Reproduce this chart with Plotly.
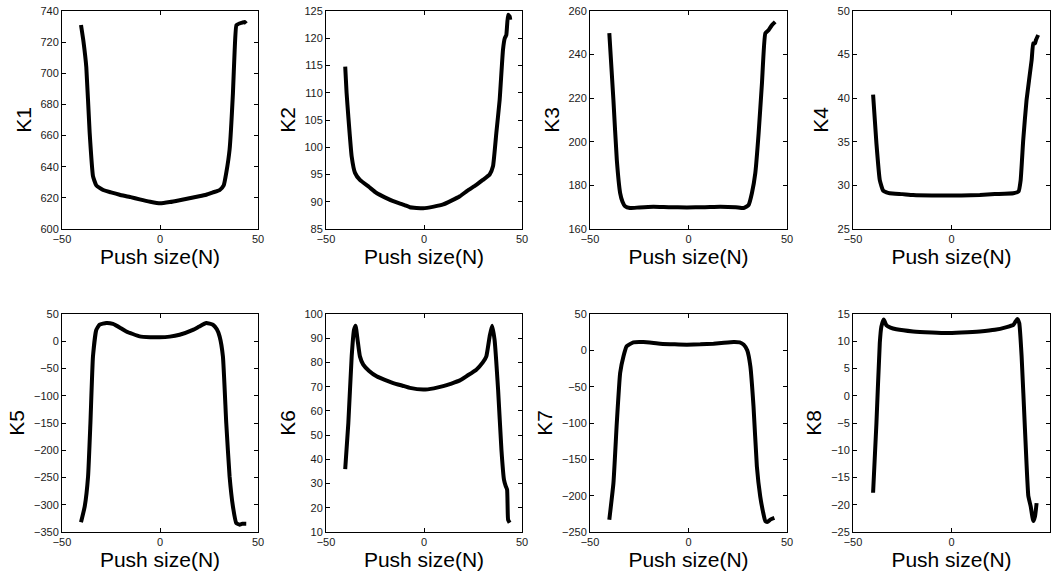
import plotly.graph_objects as go

# ---------------- data ----------------
k1_x = [-40.3, -39, -37.6, -35.9, -34.2, -32.5, -29, -25, -20.6, -15, -10.4, -5, 0, 5, 10, 15, 20, 23.6, 27, 30.4, 32.5, 33.8, 35.5, 37.2, 38.1, 39, 40.6, 42, 43.2, 44]
k1_y = [731, 720, 704, 662, 634, 628, 625, 623.5, 622, 620.5, 619, 617.5, 616.5, 617.3, 618.5, 619.8, 621, 622, 623.5, 625, 628, 636, 651, 687, 715, 731, 732, 732.5, 733, 732]

k2_x = [-40.2, -39.5, -38.6, -36.9, -35.2, -32.7, -28, -24.2, -20, -15.7, -10, -7.2, -0.4, 5, 9.8, 14, 18.3, 22, 26.7, 30, 33.5, 35.2, 36.9, 38.6, 40.3, 41.2, 42, 42.9, 43.7, 44]
k2_y = [114.8, 110, 105.6, 98.3, 95.3, 94, 92.7, 91.6, 90.8, 90.1, 89.4, 89, 88.8, 89.1, 89.5, 90.2, 91, 92, 93.1, 94, 95, 96.5, 102.6, 108.7, 117.9, 120, 120.6, 124.3, 124, 123.4]

k3_x = [-40.2, -38.1, -36.4, -34.7, -33.5, -32.2, -29.7, -25, -17.8, -10, -0.8, 8, 16.1, 24, 28, 30.5, 32.2, 33.9, 35.6, 37.3, 39, 40.7, 42.4, 44]
k3_y = [249.8, 219, 191.8, 176.5, 172.5, 170.4, 169.6, 169.9, 170.2, 170.0, 169.9, 170.0, 170.2, 170.0, 169.6, 171, 176.5, 185.6, 204, 227, 249.8, 251.3, 253.6, 255]

k4_x = [-39.8, -38.1, -36.4, -34.7, -33, -31.4, -25, -19.5, -10, -2.5, 5, 14.4, 22, 31.4, 34, 35.1, 36.4, 38.1, 40.7, 41.5, 42.4, 42.9, 44]
k4_y = [40.4, 34.8, 30.6, 29.4, 29.2, 29.1, 29.0, 28.9, 28.85, 28.85, 28.85, 28.9, 29.0, 29.1, 29.3, 30.6, 35.2, 39.8, 44.4, 46.3, 46.3, 46.7, 47.25]

k5_x = [-40.3, -38.4, -36.7, -35.5, -34.2, -32.5, -30.8, -27.4, -24, -20, -17.2, -10.4, -5, -0.2, 5, 10, 16.8, 20, 23.6, 27, 29, 30.4, 32.1, 33.8, 35.5, 37.2, 38.9, 40.6, 42, 44]
k5_y = [-332, -303, -248, -150, -28, 21, 30.4, 33.5, 31.7, 24, 18, 9, 7.5, 7.2, 8.5, 12, 21, 27, 33.5, 30.4, 22, 9, -28, -150, -248, -303, -333.5, -336.5, -335, -335]

k6_x = [-40.2, -38.6, -36.9, -35.7, -34.9, -33.9, -32.7, -31, -28, -24.2, -20, -15.7, -10, -7.2, -0.4, 5, 9.8, 14, 18.3, 22, 26.7, 30, 31.8, 33.5, 34.7, 36, 37.8, 39.5, 40.8, 41.7, 42.4, 42.9, 43.7]
k6_y = [36, 55, 82.5, 93.5, 95.2, 89.4, 82.5, 79.1, 76.5, 74.3, 72.8, 71.5, 70.2, 69.5, 68.8, 69.3, 70.2, 71.3, 72.6, 74.5, 77, 80, 82.5, 90.8, 95.2, 89.4, 68.8, 44, 31.6, 28.9, 27.5, 15.1, 13.8]

k7_x = [-40.2, -38.1, -36.4, -34.7, -33, -31.4, -28, -22.9, -14.4, -7, -0.8, 6, 12.7, 18, 22.9, 26, 28, 29.8, 31.4, 33, 34.7, 36.4, 37.8, 39, 40.2, 41.5, 43.6]
k7_y = [-233, -182.6, -100, -31.2, -8.3, 5.5, 11, 11.5, 9.2, 8.2, 7.8, 8.2, 9.2, 10.5, 11.5, 11, 7.8, 0, -22, -77, -159.6, -201, -222, -235, -236, -233, -230.7]

k8_x = [-39.8, -38.1, -36.4, -35.6, -34.4, -33, -31, -28, -19.5, -10, -2.5, 5, 14.4, 22, 28, 31.4, 33.4, 34.4, 35.6, 37.3, 39, 40.2, 41.5, 42.4, 43.2]
k8_y = [-17.8, -5, 9.7, 12.7, 14, 12.9, 12.5, 12.2, 11.8, 11.6, 11.5, 11.6, 11.8, 12.1, 12.6, 13, 14.1, 13.3, 7.2, -6.2, -18.4, -20.3, -23, -22.1, -19.7]

series_names = ["K1", "K2", "K3", "K4", "K5", "K6", "K7", "K8"]
series_x = [k1_x, k2_x, k3_x, k4_x, k5_x, k6_x, k7_x, k8_x]
series_y = [k1_y, k2_y, k3_y, k4_y, k5_y, k6_y, k7_y, k8_y]

y_ranges = [[600, 740], [85, 125], [160, 260], [25, 50], [-350, 50], [10, 100], [-250, 50], [-25, 15]]
y_dticks = [20, 5, 20, 5, 50, 10, 50, 5]
x_range = [-50, 50]
x_title = "Push size(N)"

# ---------------- layout geometry (pixels) ----------------
W, H = 1053, 575
col_px = [(62, 258), (326, 522), (590, 787), (853, 1050)]
row_px = [(11, 229), (314, 532)]

fig = go.Figure()
layout = dict(
    template="none",
    width=W, height=H,
    margin=dict(l=0, r=0, t=0, b=0, pad=0),
    paper_bgcolor="white", plot_bgcolor="white",
    showlegend=False,
    font=dict(family="Liberation Sans, Arial, sans-serif", color="black"),
)

for i, name in enumerate(series_names):
    r, c = divmod(i, 4)
    ax = i + 1
    xa = "xaxis" if ax == 1 else f"xaxis{ax}"
    ya = "yaxis" if ax == 1 else f"yaxis{ax}"
    xref = "x" if ax == 1 else f"x{ax}"
    yref = "y" if ax == 1 else f"y{ax}"
    x0, x1 = col_px[c]
    y0, y1 = row_px[r]
    common = dict(
        showline=True, linecolor="black", linewidth=1, mirror="ticks",
        ticks="inside", ticklen=4, tickwidth=1, tickcolor="black",
        showgrid=False, zeroline=False,
        tickfont=dict(size=11, color="#1a1a1a"),
    )
    layout[xa] = dict(
        domain=[x0 / W, x1 / W], range=x_range, anchor=yref,
        tickmode="linear", tick0=-50, dtick=50,
        title=dict(text=x_title, font=dict(size=21, color="black"), standoff=0),
        **common,
    )
    layout[ya] = dict(
        domain=[1 - y1 / H, 1 - y0 / H], range=y_ranges[i], anchor=xref,
        tickmode="linear", tick0=y_ranges[i][0], dtick=y_dticks[i],
        title=dict(text=name, font=dict(size=21, color="black"), standoff=3),
        **common,
    )
    fig.add_trace(go.Scatter(
        x=series_x[i], y=series_y[i], mode="lines",
        line=dict(color="black", width=4, shape="spline", smoothing=0.4),
        xaxis=xref, yaxis=yref, name=name, hoverinfo="x+y",
    ))

fig.update_layout(**layout)
fig.write_html(
    "out.html",
    config={"displayModeBar": False},
    post_script="document.body.style.margin='0';document.body.style.padding='0';document.body.style.overflow='hidden';",
)
